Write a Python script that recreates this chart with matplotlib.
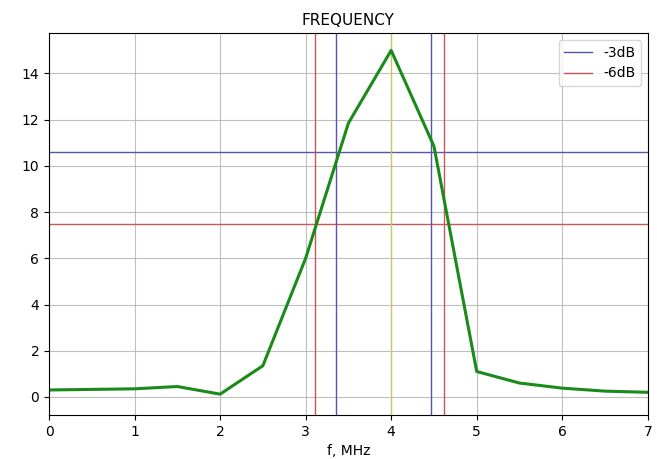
import matplotlib
matplotlib.use("Agg")
import matplotlib.pyplot as plt

f = [0, 1, 1.5, 2, 2.5, 3, 3.5, 4, 4.5, 5, 5.5, 6, 6.5, 7]
amp = [0.3, 0.35, 0.45, 0.12, 1.35, 6.0, 11.85, 15.0, 10.85, 1.1, 0.6, 0.38, 0.25, 0.2]

level_3db = 10.6
level_6db = 7.5
f_3db = [3.36, 4.47]
f_6db = [3.11, 4.62]
f_peak = 4.0

fig = plt.figure(figsize=(6.57, 4.59), dpi=100)
ax = fig.add_axes([0.0746, 0.096, 0.9114, 0.832])

ax.grid(True, color='#b0b0b0', linewidth=0.8, alpha=0.8)
ax.axhline(level_3db, color='#5555aa', linewidth=1, label='-3dB')
ax.axhline(level_6db, color='#cc5555', linewidth=1, label='-6dB')
for x in f_3db:
    ax.axvline(x, color='#5555aa', linewidth=1)
for x in f_6db:
    ax.axvline(x, color='#cc5555', linewidth=1)
ax.axvline(f_peak, color='#c8c860', linewidth=1)

ax.plot(f, amp, color='#1a8a1a', linewidth=2.2)

ax.set_xlim(0, 7)
ax.set_ylim(-0.78, 15.75)
ax.set_title("FREQUENCY", fontsize=11)
ax.set_xlabel("f, MHz")
ax.legend(loc='upper right')

fig.savefig("out.png", dpi=100)
